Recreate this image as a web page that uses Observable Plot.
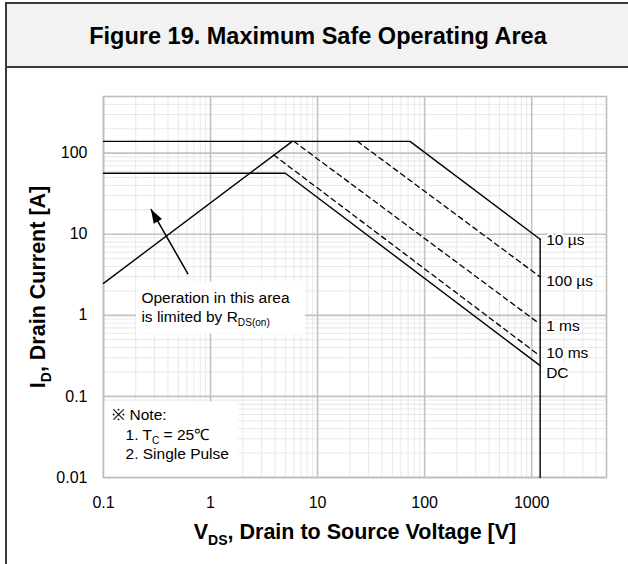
<!DOCTYPE html>
<html><head><meta charset="utf-8">
<script src="https://cdn.jsdelivr.net/npm/d3@7"></script>
<script src="https://cdn.jsdelivr.net/npm/@observablehq/plot@0.6"></script>
<style>
html,body{margin:0;padding:0;background:#fff;}
body{width:628px;height:564px;overflow:hidden;position:relative;font-family:Arial,"Liberation Sans",sans-serif;}
#frame{position:absolute;left:5px;top:2px;width:640px;height:600px;border-left:2px solid #3a3a3a;border-top:2px solid #3a3a3a;}
#title{position:absolute;left:7px;top:4px;width:640px;height:62px;background:#f2f2f2;border-bottom:2px solid #3a3a3a;}
#title span{position:absolute;left:0;width:622px;text-align:center;top:0;line-height:64px;font-weight:bold;font-size:23.5px;color:#000;}
#chart{position:absolute;left:0;top:68px;}
</style></head>
<body>
<div id="frame"></div>
<div id="title"><span>Figure 19. Maximum Safe Operating Area</span></div>
<div id="chart"></div>
<script>
// ---- axis ticks ----
const xTicks = [0.1, 1, 10, 100, 1000];
const yTicks = [0.01, 0.1, 1, 10, 100];

// ---- SOA boundary series (V in volts, I in amperes) ----
const rdsV = [0.1, 5.8];           const rdsI = [2.48, 140];
const us10V = [0.1, 73, 1200];     const us10I = [140, 140, 8.67];
const us100V = [23.5, 1190];       const us100I = [140, 3.0];
const ms1V = [6.0, 1180];          const ms1I = [140, 0.79];
const ms10V = [3.9, 1180];         const ms10I = [94.8, 0.32];
const dcV = [0.1, 5.0, 1200];      const dcI = [56.6, 56.6, 0.24];
const limitV = [1200, 1200];       const limitI = [8.67, 0.01];

// ---- curve labels ----
const curveNames = ["10 µs", "100 µs", "1 ms", "10 ms", "DC"];
const curveLabelV = [1200, 1200, 1200, 1200, 1200];
const curveLabelI = [8.43, 2.65, 0.735, 0.344, 0.195];

// ---- annotations ----
const rdsNoteLines = ["Operation in this area", "is limited by R_{DS(on)}"];
const rdsNoteV = [0.226, 0.226];
const rdsNoteI = [1.64, 0.95];
const noteLines = ["※ Note:", "1. T_{C} = 25℃", "2. Single Pulse"];
const noteV = [0.1206, 0.1606, 0.1606];
const noteI = [0.0584, 0.0331, 0.0196];
const boxV1 = [0.203, 0.1];  const boxV2 = [7.73, 1.83];
const boxI1 = [0.586, 0.01]; const boxI2 = [2.57, 0.085];
const arrowTailV = [0.616]; const arrowTailI = [3.23];
const arrowTipV = [0.277];  const arrowTipI = [20.4];

// grid lines (2..9 per decade)
const mult = [2,3,4,5,6,7,8,9];
const xMinor = xTicks.flatMap(d => mult.map(k => d * k)).filter(v => v <= 5000);
const yMinor = yTicks.flatMap(d => mult.map(k => d * k)).filter(v => v <= 500);

// filled arrowhead symbol (tip at origin)
const headAngle = -29.9 * Math.PI / 180;
const arrowHead = {
  draw(ctx) {
    const L = 14, W = 9.5;
    const ux = Math.sin(headAngle), uy = -Math.cos(headAngle);
    const bx = -ux * L, by = -uy * L;
    const px = -uy * W / 2, py = ux * W / 2;
    ctx.moveTo(0, 0);
    ctx.lineTo(bx + px, by + py);
    ctx.lineTo(bx - px, by - py);
    ctx.closePath();
  }
};

const solid = {stroke: "#000", strokeWidth: 1.4};
const dashed = {stroke: "#000", strokeWidth: 1.3, strokeDasharray: "5,4"};
const fmt = d => String(d);

const plot = Plot.plot({
  width: 628, height: 496,
  marginLeft: 103, marginRight: 22, marginTop: 28, marginBottom: 87,
  style: {fontFamily: "Arial, 'Liberation Sans', sans-serif", fontSize: "16px", background: "none", color: "#000", overflow: "visible"},
  x: {type: "log", domain: [0.1, 5000]},
  y: {type: "log", domain: [0.01, 500]},
  marks: [
    Plot.ruleX(xMinor, {stroke: "#e8e8e8", strokeWidth: 1}),
    Plot.ruleY(yMinor, {stroke: "#e8e8e8", strokeWidth: 1}),
    Plot.ruleX(xTicks, {stroke: "#c2c2c2", strokeWidth: 1.6}),
    Plot.ruleY(yTicks, {stroke: "#c2c2c2", strokeWidth: 1.6}),
    Plot.rect(boxV1, {x1: boxV1, x2: boxV2, y1: boxI1, y2: boxI2, fill: "white"}),
    Plot.frame({stroke: "#bdbdbd", strokeWidth: 1.6}),
    Plot.line(rdsV, {x: rdsV, y: rdsI, ...solid}),
    Plot.line(us10V, {x: us10V, y: us10I, ...solid}),
    Plot.line(us100V, {x: us100V, y: us100I, ...dashed}),
    Plot.line(ms1V, {x: ms1V, y: ms1I, ...dashed}),
    Plot.line(ms10V, {x: ms10V, y: ms10I, ...dashed}),
    Plot.line(dcV, {x: dcV, y: dcI, ...solid}),
    Plot.line(limitV, {x: limitV, y: limitI, ...solid}),
    Plot.link(arrowTipV, {x1: arrowTailV, y1: arrowTailI, x2: arrowTipV, y2: arrowTipI, stroke: "#000", strokeWidth: 1.5}),
    Plot.dot(arrowTipV, {x: arrowTipV, y: arrowTipI, symbol: arrowHead, r: 5, fill: "#000", stroke: "none"}),
    Plot.text(curveNames, {x: curveLabelV, y: curveLabelI, text: curveNames, dx: 6, textAnchor: "start", fill: "#000", stroke: "white", strokeWidth: 4, fontSize: 15.5}),
    Plot.text(rdsNoteLines, {x: rdsNoteV, y: rdsNoteI, text: rdsNoteLines, textAnchor: "start", fill: "#000", fontSize: 15.5}),
    Plot.text(noteLines, {x: noteV, y: noteI, text: noteLines, textAnchor: "start", fill: "#000", fontSize: 15.5}),
    Plot.axisX({ticks: xTicks, tickFormat: fmt, tickSize: 0, tickPadding: 19, fontSize: 16, label: null}),
    Plot.axisY({ticks: yTicks, tickFormat: fmt, tickSize: 0, tickPadding: 16, fontSize: 16, label: null}),
    Plot.text(["V_{DS}, Drain to Source Voltage [V]"], {frameAnchor: "bottom", lineAnchor: "middle", textAnchor: "middle", dy: 55, fontWeight: "bold", fontSize: 21.5, fill: "#000"}),
    Plot.text(["I_{D}, Drain Current [A]"], {frameAnchor: "left", lineAnchor: "middle", textAnchor: "middle", dx: -65, rotate: -90, fontWeight: "bold", fontSize: 21.5, fill: "#000"})
  ]
});

document.getElementById("chart").appendChild(plot);

// turn "_{...}" into subscript tspans
const NS = "http://www.w3.org/2000/svg";
plot.querySelectorAll("text").forEach(t => {
  const s = t.textContent;
  if (!s.includes("_{") || t.children.length) return;
  const fs = parseFloat(getComputedStyle(t).fontSize) || 16;
  const shift = Math.round(fs * 0.28);
  while (t.firstChild) t.removeChild(t.firstChild);
  const re = /_\{([^}]*)\}/g;
  let last = 0, m, pendingUp = false;
  const add = (str, sub) => {
    const ts = document.createElementNS(NS, "tspan");
    ts.textContent = str;
    if (sub) { ts.setAttribute("font-size", (fs * 0.65).toFixed(1)); ts.setAttribute("dy", shift); }
    else if (pendingUp) { ts.setAttribute("dy", -shift); }
    t.appendChild(ts);
  };
  while ((m = re.exec(s))) {
    if (m.index > last) { add(s.slice(last, m.index), false); pendingUp = false; }
    add(m[1], true); pendingUp = true;
    last = re.lastIndex;
  }
  if (last < s.length) add(s.slice(last), false);
});
</script>
</body></html>
